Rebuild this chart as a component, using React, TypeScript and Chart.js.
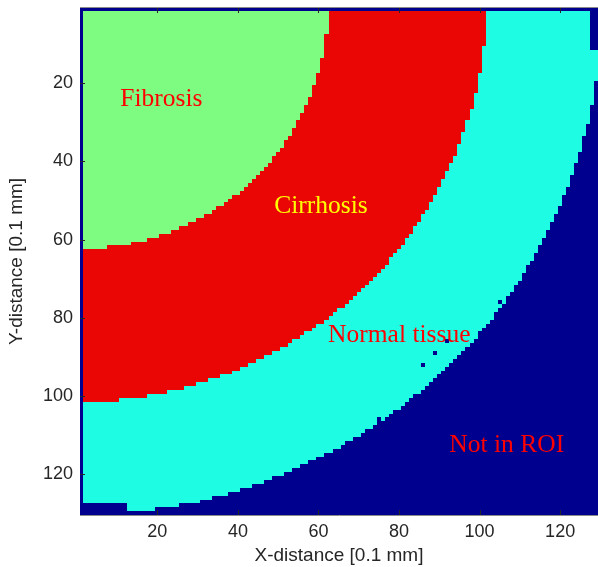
import React, { useEffect, useRef } from "react";
import { Chart, registerables } from "chart.js";

Chart.register(...registerables);

// ---- data ----
const gridSize = 130; // cells per side [0.1 mm]
const regionNames = ["Fibrosis", "Cirrhosis", "Normal tissue", "Not in ROI"];
// outer radius of each tissue ring, measured from the top-left corner [0.1 mm]
const regionOuterRadius = [62.5, 101.5, 130.5];
// cells outside the ROI inside the rings (isolated dots)
const outlierCells = [
  [92, 86],
  [89, 89],
  [86, 92],
  [75, 106],
  [105, 76],
];
// border strips outside the ROI: [colFrom, colTo, rowFrom, rowTo]
const excludedBlocks = [
  [1, 1, 1, 130],
  [1, 130, 1, 1],
  [128, 130, 1, 11],
  [1, 12, 128, 130],
];
const xTicks = [20, 40, 60, 80, 100, 120];
const yTicks = [20, 40, 60, 80, 100, 120];
const labelTexts = ["Fibrosis", "Cirrhosis", "Normal tissue", "Not in ROI"];
const labelX = [10.8, 49.0, 62.4, 92.5];
const labelY = [25.8, 53.2, 86.2, 114.3];

// ---- styles ----
const regionColors = [
  "rgb(126,252,130)",
  "rgb(234,6,4)",
  "rgb(30,253,228)",
  "rgb(0,0,143)",
];
const labelColors = ["#ff0000", "#ffff00", "#ff0000", "#ff0000"];

function buildGrid(): number[][] {
  const grid: number[][] = [];
  for (let r = 1; r <= gridSize; r++) {
    const row: number[] = [];
    for (let c = 1; c <= gridSize; c++) {
      const d = Math.sqrt(c * c + r * r);
      let cls = 3;
      for (let k = 0; k < regionOuterRadius.length; k++) {
        if (d < regionOuterRadius[k]) {
          cls = k;
          break;
        }
      }
      row.push(cls);
    }
    grid.push(row);
  }
  for (const [c0, c1, r0, r1] of excludedBlocks) {
    for (let r = r0; r <= r1; r++)
      for (let c = c0; c <= c1; c++) grid[r - 1][c - 1] = 3;
  }
  for (const [c, r] of outlierCells) grid[r - 1][c - 1] = 3;
  return grid;
}

const grid = buildGrid();

const heatmapPlugin = {
  id: "heatmap",
  beforeDatasetsDraw(chart: any) {
    const { ctx, chartArea, scales } = chart;
    const xs = scales.x;
    const ys = scales.y;
    ctx.save();
    ctx.beginPath();
    ctx.rect(chartArea.left, chartArea.top, chartArea.right - chartArea.left, chartArea.bottom - chartArea.top);
    ctx.clip();
    for (let r = 1; r <= gridSize; r++) {
      const ya = Math.round(ys.getPixelForValue(r - 0.5));
      const yb = Math.round(ys.getPixelForValue(r + 0.5));
      const top = Math.min(ya, yb);
      const h = Math.abs(yb - ya);
      let c = 1;
      while (c <= gridSize) {
        const cls = grid[r - 1][c - 1];
        let e = c;
        while (e + 1 <= gridSize && grid[r - 1][e] === cls) e++;
        const x0 = Math.round(xs.getPixelForValue(c - 0.5));
        const x1 = Math.round(xs.getPixelForValue(e + 0.5));
        ctx.fillStyle = regionColors[cls];
        ctx.fillRect(x0, top, x1 - x0, h);
        c = e + 1;
      }
    }
    ctx.restore();
  },
  afterDatasetsDraw(chart: any) {
    const { ctx, chartArea, scales } = chart;
    const xs = scales.x;
    const ys = scales.y;
    ctx.save();
    // inward tick marks
    ctx.strokeStyle = "#262626";
    ctx.lineWidth = 1;
    ctx.beginPath();
    for (const v of xTicks) {
      const px = Math.round(xs.getPixelForValue(v)) + 0.5;
      ctx.moveTo(px, chartArea.bottom);
      ctx.lineTo(px, chartArea.bottom - 5);
      ctx.moveTo(px, chartArea.top);
      ctx.lineTo(px, chartArea.top + 5);
    }
    for (const v of yTicks) {
      const py = Math.round(ys.getPixelForValue(v)) + 0.5;
      ctx.moveTo(chartArea.left, py);
      ctx.lineTo(chartArea.left + 5, py);
    }
    ctx.stroke();
    // top box line
    ctx.strokeStyle = "#8a8a8a";
    ctx.beginPath();
    ctx.moveTo(chartArea.left, chartArea.top - 0.5);
    ctx.lineTo(chartArea.right, chartArea.top - 0.5);
    ctx.stroke();
    // region labels
    ctx.font = '25.5px "Liberation Serif", "Times New Roman", serif';
    ctx.textAlign = "left";
    ctx.textBaseline = "alphabetic";
    labelTexts.forEach((t, i) => {
      ctx.fillStyle = labelColors[i];
      ctx.fillText(t, xs.getPixelForValue(labelX[i]), ys.getPixelForValue(labelY[i]));
    });
    ctx.restore();
  },
};

export default function App() {
  const ref = useRef<HTMLCanvasElement | null>(null);
  useEffect(() => {
    if (!ref.current) return;
    const chart = new Chart(ref.current, {
      type: "scatter",
      data: {
        datasets: [
          {
            label: regionNames.join(", "),
            data: [],
            pointRadius: 0,
          },
        ],
      },
      options: {
        animation: false,
        responsive: false,
        layout: { padding: { top: 8, left: 0, right: 0, bottom: 0 } },
        plugins: { legend: { display: false }, tooltip: { enabled: false } },
        scales: {
          x: {
            type: "linear",
            min: 0.8,
            max: 129.4,
            afterBuildTicks: (s: any) => {
              s.ticks = xTicks.map((v) => ({ value: v }));
            },
            afterFit: (s: any) => {
              s.height = 52;
              s.paddingLeft = 0;
              s.paddingRight = 0;
            },
            grid: { display: false, drawTicks: false },
            border: { display: true, color: "#8a8a8a", width: 1 },
            ticks: {
              padding: 6,
              color: "#262626",
              font: { family: '"Liberation Sans", Arial, sans-serif', size: 18 },
              maxRotation: 0,
            },
            title: {
              display: true,
              text: "X-distance [0.1 mm]",
              color: "#262626",
              font: { family: '"Liberation Sans", Arial, sans-serif', size: 19, lineHeight: 1.2 },
              padding: { top: 0, bottom: 0 },
            },
          },
          y: {
            type: "linear",
            reverse: true,
            min: 0.75,
            max: 130.45,
            afterBuildTicks: (s: any) => {
              s.ticks = yTicks.map((v) => ({ value: v }));
            },
            afterFit: (s: any) => {
              s.width = 80;
              s.paddingTop = 0;
              s.paddingBottom = 0;
            },
            grid: { display: false, drawTicks: false },
            border: { display: true, color: "#8a8a8a", width: 1 },
            ticks: {
              padding: 7,
              color: "#262626",
              font: { family: '"Liberation Sans", Arial, sans-serif', size: 18 },
            },
            title: {
              display: true,
              text: "Y-distance [0.1 mm]",
              color: "#262626",
              font: { family: '"Liberation Sans", Arial, sans-serif', size: 19, lineHeight: 1.2 },
              padding: { top: 5, bottom: 0 },
            },
          },
        },
      },
      plugins: [heatmapPlugin],
    });
    return () => chart.destroy();
  }, []);
  return (
    <div style={{ position: "fixed", left: 0, top: 0, width: 598, height: 567, background: "#fff" }}>
      <canvas ref={ref} width={598} height={567} style={{ display: "block" }} />
    </div>
  );
}
